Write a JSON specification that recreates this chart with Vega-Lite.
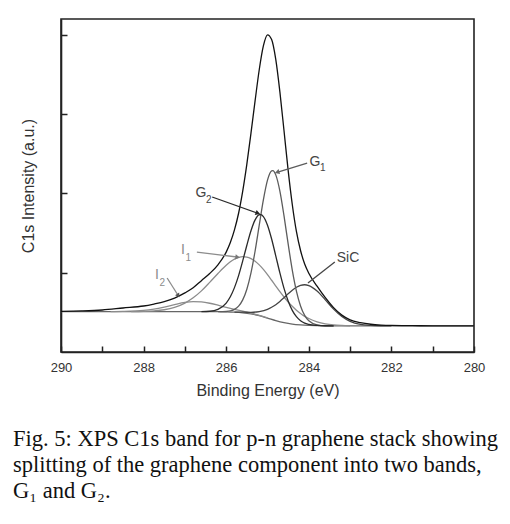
{
  "$schema": "https://vega.github.io/schema/vega-lite/v6.json",
  "width": 413,
  "height": 333,
  "autosize": {"type": "none"},
  "padding": {"left": 61, "top": 19, "right": 36, "bottom": 172},
  "background": "white",
  "config": {
    "view": {"stroke": "#222", "strokeWidth": 1.6},
    "font": "Liberation Sans"
  },
  "title": {
    "text": ["Fig. 5: XPS C1s band for p-n graphene stack showing", "splitting of the graphene component into two bands,", "G₁ and G₂."],
    "orient": "bottom",
    "anchor": "start",
    "frame": "group",
    "dx": -48,
    "offset": 30,
    "font": "Liberation Serif",
    "fontSize": 22.5,
    "fontWeight": "normal",
    "lineHeight": 26,
    "color": "#111"
  },
  "datasets": {
    "curves": [
      {"s":"bg","E":290,"I":0.51},{"s":"bg","E":287,"I":0.51},{"s":"bg","E":286.4,"I":0.51},{"s":"bg","E":286.2,"I":0.508},{"s":"bg","E":286.0,"I":0.506},{"s":"bg","E":285.8,"I":0.502},{"s":"bg","E":285.6,"I":0.494},{"s":"bg","E":285.4,"I":0.48},{"s":"bg","E":285.2,"I":0.458},{"s":"bg","E":285.0,"I":0.428},{"s":"bg","E":284.8,"I":0.396},{"s":"bg","E":284.6,"I":0.37},{"s":"bg","E":284.4,"I":0.352},{"s":"bg","E":284.2,"I":0.342},{"s":"bg","E":284.0,"I":0.336},{"s":"bg","E":283.8,"I":0.333},{"s":"bg","E":283.5,"I":0.331},{"s":"bg","E":283,"I":0.33},{"s":"bg","E":280,"I":0.33},

      {"s":"I2","E":288.8,"I":0.51},{"s":"I2","E":288.5,"I":0.512},{"s":"I2","E":288,"I":0.524},{"s":"I2","E":287.75,"I":0.541},{"s":"I2","E":287.5,"I":0.567},{"s":"I2","E":287.25,"I":0.598},{"s":"I2","E":287,"I":0.625},{"s":"I2","E":286.8,"I":0.635},{"s":"I2","E":286.6,"I":0.631},{"s":"I2","E":286.4,"I":0.615},{"s":"I2","E":286.2,"I":0.59},{"s":"I2","E":286.0,"I":0.563},{"s":"I2","E":285.8,"I":0.538},{"s":"I2","E":285.6,"I":0.514},{"s":"I2","E":285.4,"I":0.49},{"s":"I2","E":285.2,"I":0.462},{"s":"I2","E":285.0,"I":0.43},

      {"s":"I1","E":288.3,"I":0.51},{"s":"I1","E":288,"I":0.513},{"s":"I1","E":287.75,"I":0.519},{"s":"I1","E":287.5,"I":0.533},{"s":"I1","E":287.25,"I":0.563},{"s":"I1","E":287,"I":0.617},{"s":"I1","E":286.8,"I":0.683},{"s":"I1","E":286.6,"I":0.771},{"s":"I1","E":286.4,"I":0.878},{"s":"I1","E":286.2,"I":0.99},{"s":"I1","E":286.0,"I":1.094},{"s":"I1","E":285.9,"I":1.137},{"s":"I1","E":285.8,"I":1.171},{"s":"I1","E":285.7,"I":1.192},{"s":"I1","E":285.6,"I":1.202},{"s":"I1","E":285.5,"I":1.197},{"s":"I1","E":285.4,"I":1.178},{"s":"I1","E":285.3,"I":1.145},{"s":"I1","E":285.2,"I":1.099},{"s":"I1","E":285.1,"I":1.042},{"s":"I1","E":285.0,"I":0.976},{"s":"I1","E":284.9,"I":0.905},{"s":"I1","E":284.8,"I":0.832},{"s":"I1","E":284.7,"I":0.761},{"s":"I1","E":284.6,"I":0.694},{"s":"I1","E":284.5,"I":0.631},{"s":"I1","E":284.4,"I":0.576},{"s":"I1","E":284.3,"I":0.527},{"s":"I1","E":284.2,"I":0.486},{"s":"I1","E":284.1,"I":0.45},{"s":"I1","E":284.0,"I":0.422},{"s":"I1","E":283.8,"I":0.381},{"s":"I1","E":283.6,"I":0.356},{"s":"I1","E":283.4,"I":0.342},{"s":"I1","E":283.2,"I":0.335},{"s":"I1","E":283.0,"I":0.331},

      {"s":"SiC","E":285.8,"I":0.502},{"s":"SiC","E":285.6,"I":0.502},{"s":"SiC","E":285.4,"I":0.501},{"s":"SiC","E":285.2,"I":0.51},{"s":"SiC","E":285.0,"I":0.538},{"s":"SiC","E":284.9,"I":0.564},{"s":"SiC","E":284.8,"I":0.597},{"s":"SiC","E":284.7,"I":0.638},{"s":"SiC","E":284.6,"I":0.685},{"s":"SiC","E":284.5,"I":0.734},{"s":"SiC","E":284.4,"I":0.779},{"s":"SiC","E":284.3,"I":0.816},{"s":"SiC","E":284.2,"I":0.841},{"s":"SiC","E":284.1,"I":0.848},{"s":"SiC","E":284.0,"I":0.838},{"s":"SiC","E":283.8,"I":0.77},{"s":"SiC","E":283.6,"I":0.658},{"s":"SiC","E":283.4,"I":0.541},{"s":"SiC","E":283.2,"I":0.448},{"s":"SiC","E":283.0,"I":0.387},{"s":"SiC","E":282.75,"I":0.348},{"s":"SiC","E":282.5,"I":0.335},{"s":"SiC","E":282.25,"I":0.331},{"s":"SiC","E":282.0,"I":0.33},

      {"s":"G1","E":286.2,"I":0.508},{"s":"G1","E":286.0,"I":0.511},{"s":"G1","E":285.9,"I":0.518},{"s":"G1","E":285.8,"I":0.538},{"s":"G1","E":285.7,"I":0.578},{"s":"G1","E":285.6,"I":0.657},{"s":"G1","E":285.5,"I":0.792},{"s":"G1","E":285.4,"I":0.998},{"s":"G1","E":285.3,"I":1.274},{"s":"G1","E":285.2,"I":1.599},{"s":"G1","E":285.1,"I":1.918},{"s":"G1","E":285.0,"I":2.167},{"s":"G1","E":284.9,"I":2.284},{"s":"G1","E":284.87,"I":2.287},{"s":"G1","E":284.8,"I":2.234},{"s":"G1","E":284.7,"I":2.029},{"s":"G1","E":284.6,"I":1.716},{"s":"G1","E":284.5,"I":1.363},{"s":"G1","E":284.4,"I":1.034},{"s":"G1","E":284.3,"I":0.769},{"s":"G1","E":284.2,"I":0.581},{"s":"G1","E":284.1,"I":0.462},{"s":"G1","E":284.0,"I":0.394},{"s":"G1","E":283.8,"I":0.343},{"s":"G1","E":283.6,"I":0.331},{"s":"G1","E":283.4,"I":0.33},

      {"s":"G2","E":286.6,"I":0.51},{"s":"G2","E":286.4,"I":0.514},{"s":"G2","E":286.2,"I":0.538},{"s":"G2","E":286.0,"I":0.617},{"s":"G2","E":285.9,"I":0.696},{"s":"G2","E":285.8,"I":0.812},{"s":"G2","E":285.7,"I":0.964},{"s":"G2","E":285.6,"I":1.149},{"s":"G2","E":285.5,"I":1.346},{"s":"G2","E":285.4,"I":1.529},{"s":"G2","E":285.3,"I":1.666},{"s":"G2","E":285.2,"I":1.731},{"s":"G2","E":285.16,"I":1.732},{"s":"G2","E":285.1,"I":1.708},{"s":"G2","E":285.0,"I":1.599},{"s":"G2","E":284.9,"I":1.425},{"s":"G2","E":284.8,"I":1.213},{"s":"G2","E":284.7,"I":0.997},{"s":"G2","E":284.6,"I":0.802},{"s":"G2","E":284.5,"I":0.643},{"s":"G2","E":284.4,"I":0.525},{"s":"G2","E":284.3,"I":0.445},{"s":"G2","E":284.2,"I":0.395},{"s":"G2","E":284.1,"I":0.364},{"s":"G2","E":284.0,"I":0.348},{"s":"G2","E":283.8,"I":0.335},{"s":"G2","E":283.6,"I":0.331},{"s":"G2","E":283.4,"I":0.33},

      {"s":"sum","E":290,"I":0.512},{"s":"sum","E":289.5,"I":0.518},{"s":"sum","E":289,"I":0.53},{"s":"sum","E":288.5,"I":0.555},{"s":"sum","E":288,"I":0.58},{"s":"sum","E":287.75,"I":0.605},{"s":"sum","E":287.5,"I":0.635},{"s":"sum","E":287.25,"I":0.68},{"s":"sum","E":287,"I":0.745},{"s":"sum","E":286.8,"I":0.81},{"s":"sum","E":286.6,"I":0.9},{"s":"sum","E":286.4,"I":0.99},{"s":"sum","E":286.2,"I":1.1},{"s":"sum","E":286.0,"I":1.26},{"s":"sum","E":285.9,"I":1.38},{"s":"sum","E":285.8,"I":1.54},{"s":"sum","E":285.7,"I":1.75},{"s":"sum","E":285.6,"I":2.03},{"s":"sum","E":285.5,"I":2.37},{"s":"sum","E":285.4,"I":2.76},{"s":"sum","E":285.3,"I":3.17},{"s":"sum","E":285.2,"I":3.56},{"s":"sum","E":285.1,"I":3.86},{"s":"sum","E":285.0,"I":4.0},{"s":"sum","E":284.9,"I":3.94},{"s":"sum","E":284.8,"I":3.69},{"s":"sum","E":284.7,"I":3.28},{"s":"sum","E":284.6,"I":2.79},{"s":"sum","E":284.5,"I":2.29},{"s":"sum","E":284.4,"I":1.86},{"s":"sum","E":284.3,"I":1.52},{"s":"sum","E":284.2,"I":1.28},{"s":"sum","E":284.1,"I":1.11},{"s":"sum","E":284.0,"I":0.994},{"s":"sum","E":283.8,"I":0.83},{"s":"sum","E":283.6,"I":0.685},{"s":"sum","E":283.4,"I":0.56},{"s":"sum","E":283.2,"I":0.465},{"s":"sum","E":283.0,"I":0.405},{"s":"sum","E":282.75,"I":0.37},{"s":"sum","E":282.5,"I":0.35},{"s":"sum","E":282.25,"I":0.34},{"s":"sum","E":282,"I":0.335},{"s":"sum","E":281.5,"I":0.332},{"s":"sum","E":281,"I":0.33},{"s":"sum","E":280.5,"I":0.33},{"s":"sum","E":280,"I":0.33}
    ],
    "labels": [
      {"t":"G","E":283.85,"I":2.396},
      {"t":"G","E":286.61,"I":2.005},
      {"t":"I","E":287.05,"I":1.286},
      {"t":"I","E":287.68,"I":0.971},
      {"t":"SiC","E":283.05,"I":1.185}
    ],
    "subs": [
      {"t":"1","p":"G","E":283.66,"I":2.32},
      {"t":"2","p":"G","E":286.42,"I":1.917},
      {"t":"1","p":"I","E":286.92,"I":1.185},
      {"t":"2","p":"I","E":287.55,"I":0.87}
    ],
    "pointers": [
      {"p":"G1","E":284.04,"I":2.383,"E2":284.75,"I2":2.27},
      {"p":"G2","E":286.34,"I":1.955,"E2":285.25,"I2":1.753},
      {"p":"I1","E":286.71,"I":1.261,"E2":285.74,"I2":1.198},
      {"p":"I2","E":287.43,"I":0.933,"E2":287.17,"I2":0.719},
      {"p":"SiC","E":283.37,"I":1.135,"E2":284.02,"I2":0.87}
    ],
    "xticks": [
      {"E":290,"k":"major"},{"E":289,"k":"minor"},{"E":288,"k":"major"},{"E":287,"k":"minor"},{"E":286,"k":"major"},{"E":285,"k":"minor"},{"E":284,"k":"major"},{"E":283,"k":"minor"},{"E":282,"k":"major"},{"E":281,"k":"minor"},{"E":280,"k":"major"}
    ]
  },
  "encoding": {
    "x": {
      "field": "E", "type": "quantitative",
      "scale": {"domain": [290, 280], "nice": false, "zero": false},
      "axis": {
        "values": [290, 289, 288, 287, 286, 285, 284, 283, 282, 281, 280],
        "labelExpr": "datum.value % 2 == 0 ? format(datum.value, 'd') : ''",
        "grid": false,
        "tickSize": -6, "tickWidth": 1.5, "tickColor": "#222",
        "domainColor": "#222", "domainWidth": 1.6,
        "labelPadding": 15, "labelFontSize": 13, "labelColor": "#333", "labelFlush": false,
        "title": "Binding Energy (eV)", "titleFontSize": 16, "titleFontWeight": "normal", "titleColor": "#333", "titlePadding": 8
      }
    },
    "y": {
      "field": "I", "type": "quantitative",
      "scale": {"domain": [0, 4.2], "nice": false, "zero": false},
      "axis": {
        "values": [1, 2, 3, 4],
        "labels": false,
        "grid": false,
        "tickSize": -6, "tickWidth": 1.5, "tickColor": "#222",
        "domainColor": "#222", "domainWidth": 1.6,
        "title": "C1s Intensity (a.u.)", "titleFontSize": 16, "titleFontWeight": "normal", "titleColor": "#333", "titlePadding": 24
      }
    }
  },
  "layer": [
    {
      "data": {"name": "xticks"},
      "transform": [{"filter": "datum.k == 'major'"}],
      "mark": {"type": "rule", "strokeWidth": 1.5, "color": "#222222"},
      "encoding": {
        "y": {"datum": 0, "type": "quantitative"},
        "y2": {"datum": 0.088}
      }
    },
    {
      "data": {"name": "xticks"},
      "transform": [{"filter": "datum.k == 'minor'"}],
      "mark": {"type": "rule", "strokeWidth": 1.5, "color": "#222222"},
      "encoding": {
        "y": {"datum": 0, "type": "quantitative"},
        "y2": {"datum": 0.05}
      }
    },
    {
      "data": {"name": "curves"},
      "mark": {"type": "line", "interpolate": "monotone"},
      "encoding": {
        "detail": {"field": "s"},
        "color": {"field": "s", "type": "nominal", "legend": null,
          "scale": {"domain": ["bg","I2","I1","SiC","G1","G2","sum"], "range": ["#666666","#8c8c8c","#8c8c8c","#444444","#5c5c5c","#2a2a2a","#111111"]}},
        "size": {"field": "s", "type": "nominal", "legend": null,
          "scale": {"domain": ["bg","I2","I1","SiC","G1","G2","sum"], "range": [1.3,1.3,1.3,1.4,1.4,1.5,2.0]}}
      }
    },
    {
      "data": {"name": "pointers"},
      "mark": {"type": "rule", "strokeWidth": 1.3},
      "encoding": {
        "x2": {"field": "E2"},
        "y2": {"field": "I2"},
        "color": {"field": "p", "type": "nominal", "legend": null,
          "scale": {"domain": ["G1","G2","I1","I2","SiC"], "range": ["#666666","#222222","#777777","#555555","#333333"]}}
      }
    },
    {
      "data": {"name": "pointers"},
      "transform": [{"filter": "datum.p == 'G1'"}],
      "mark": {"type": "point", "shape": "triangle", "filled": true, "size": 28, "angle": 253, "color": "#666666", "opacity": 1},
      "encoding": {"x": {"field": "E2", "type": "quantitative"}, "y": {"field": "I2", "type": "quantitative"}}
    },
    {
      "data": {"name": "pointers"},
      "transform": [{"filter": "datum.p == 'G2'"}],
      "mark": {"type": "point", "shape": "triangle", "filled": true, "size": 30, "angle": 110, "color": "#222222", "opacity": 1},
      "encoding": {"x": {"field": "E2", "type": "quantitative"}, "y": {"field": "I2", "type": "quantitative"}}
    },
    {
      "data": {"name": "pointers"},
      "transform": [{"filter": "datum.p == 'I1'"}],
      "mark": {"type": "point", "shape": "triangle", "filled": true, "size": 28, "angle": 97, "color": "#777777", "opacity": 1},
      "encoding": {"x": {"field": "E2", "type": "quantitative"}, "y": {"field": "I2", "type": "quantitative"}}
    },
    {
      "data": {"name": "pointers"},
      "transform": [{"filter": "datum.p == 'I2'"}],
      "mark": {"type": "point", "shape": "triangle", "filled": true, "size": 24, "angle": 147, "color": "#555555", "opacity": 1},
      "encoding": {"x": {"field": "E2", "type": "quantitative"}, "y": {"field": "I2", "type": "quantitative"}}
    },
    {
      "data": {"name": "labels"},
      "mark": {"type": "text", "fontSize": 14, "align": "center", "baseline": "middle"},
      "encoding": {
        "text": {"field": "t"},
        "color": {"condition": {"test": "datum.t == 'I'", "value": "#8c8c8c"}, "value": "#444444"}
      }
    },
    {
      "data": {"name": "subs"},
      "mark": {"type": "text", "fontSize": 10, "align": "center", "baseline": "middle"},
      "encoding": {
        "text": {"field": "t"},
        "color": {"condition": {"test": "datum.p == 'I'", "value": "#8c8c8c"}, "value": "#444444"}
      }
    }
  ]
}
